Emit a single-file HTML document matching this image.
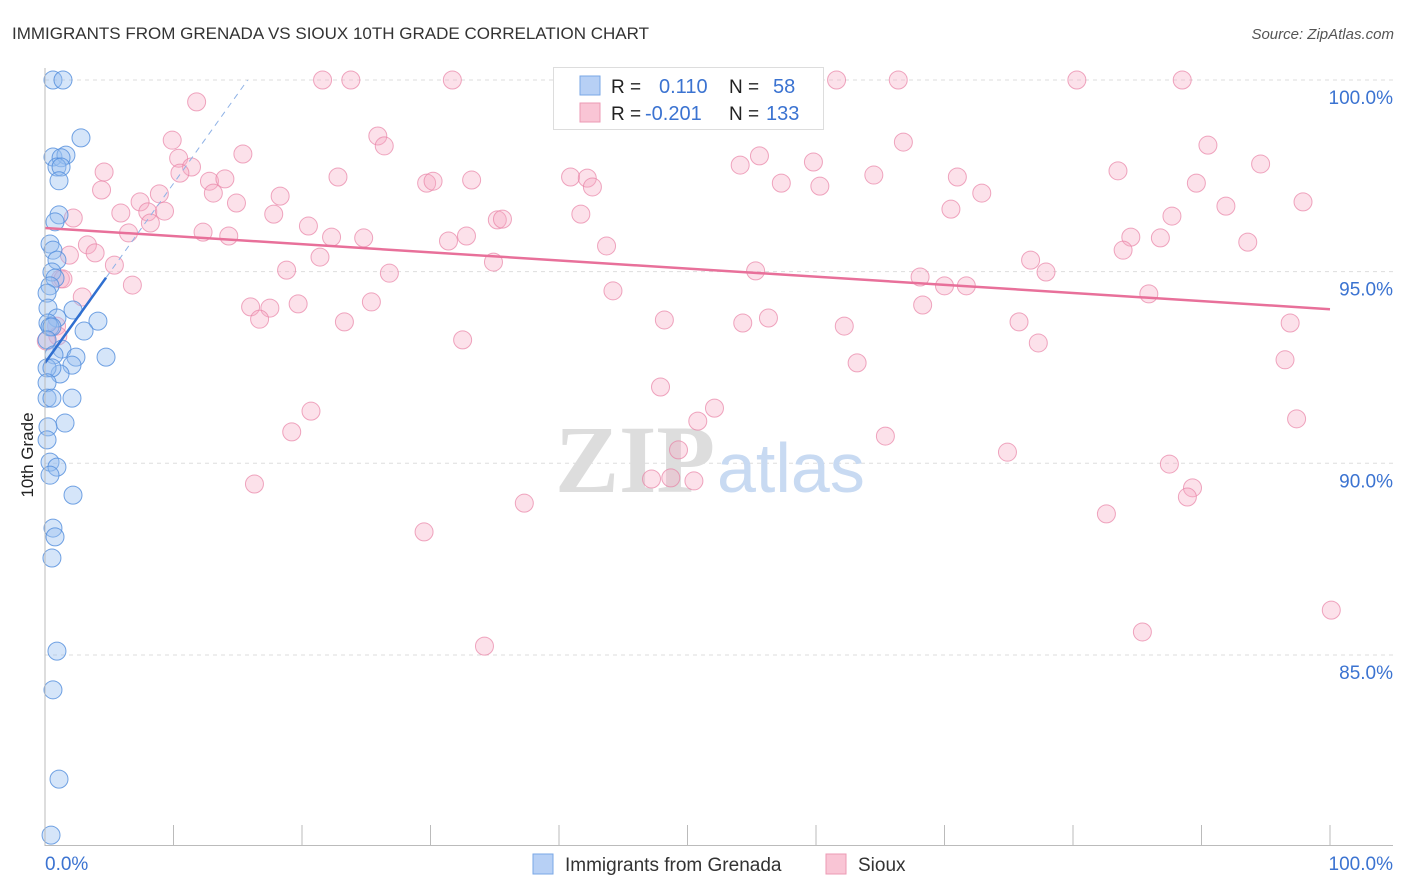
<!DOCTYPE html>
<html><head><meta charset="utf-8"><style>
body{margin:0;background:#fff;width:1406px;height:892px;overflow:hidden;font-family:"Liberation Sans",sans-serif}
svg{display:block}
</style></head><body>
<svg id="chart" width="1406" height="892">
<text x="12" y="39" font-size="17" fill="#333">IMMIGRANTS FROM GRENADA VS SIOUX 10TH GRADE CORRELATION CHART</text>
<text x="1394" y="39" font-size="15" fill="#555" font-style="italic" text-anchor="end">Source: ZipAtlas.com</text>
<text transform="translate(33,455) rotate(-90)" font-size="17" fill="#222" text-anchor="middle">10th Grade</text>
<g id="grid"></g>
<g id="wm"><text x="555" y="492" font-size="96" font-family="Liberation Serif,serif" fill="#ddd" font-weight="bold">ZIP</text><text x="717" y="492" font-size="70" fill="#c8daf2">atlas</text></g>
<g id="pts"></g>
<g id="lines"></g>
<g id="axes"></g>
<g>
<rect x="553.5" y="67.5" width="270" height="62" fill="#fff" stroke="#ddd"/>
<rect x="580" y="76" width="20" height="19" fill="#b7d0f5" stroke="#7aa7e6"/>
<rect x="580" y="103" width="20" height="19" fill="#f9c5d5" stroke="#ec9ab4"/>
<text x="611" y="93" font-size="19" fill="#222">R =</text><text x="659" y="93" font-size="20" fill="#3b73d1">0.110</text>
<text x="729" y="93" font-size="19" fill="#222">N =</text><text x="773" y="93" font-size="20" fill="#3b73d1">58</text>
<text x="611" y="120" font-size="19" fill="#222">R =</text><text x="645" y="120" font-size="20" fill="#3b73d1">-0.201</text>
<text x="729" y="120" font-size="19" fill="#222">N =</text><text x="766" y="120" font-size="20" fill="#3b73d1">133</text>
</g>
<g>
<rect x="533" y="854" width="20" height="20" fill="#b7d0f5" stroke="#7aa7e6"/>
<text x="565" y="871" font-size="19" fill="#333">Immigrants from Grenada</text>
<rect x="826" y="854" width="20" height="20" fill="#f9c5d5" stroke="#ec9ab4"/>
<text x="858" y="871" font-size="19" fill="#333">Sioux</text>
</g>
</svg>
<script>
const blueX=[0.62,1.40,2.80,0.62,1.63,1.25,0.93,1.25,1.09,1.09,0.78,0.39,0.62,0.93,0.54,0.78,0.39,0.16,0.23,2.18,4.12,0.93,0.23,0.39,0.54,3.04,0.16,1.32,0.70,2.41,4.75,2.10,1.17,0.16,0.54,0.16,2.10,0.16,0.54,1.56,0.23,0.16,0.39,0.93,0.39,2.18,0.62,0.78,0.54,0.93,0.62,1.09,0.47];
const blueY=[100,100,98.49,97.99,98.04,97.97,97.73,97.73,97.37,96.48,96.30,95.72,95.56,95.30,94.99,94.83,94.63,94.44,94.05,94.00,93.71,93.79,93.66,93.56,93.56,93.45,93.22,92.98,92.83,92.77,92.77,92.56,92.33,92.49,92.49,92.10,91.70,91.70,91.70,91.05,90.95,90.61,90.03,89.90,89.69,89.17,88.31,88.08,87.53,85.10,84.09,81.76,80.30];
const pinkX=[11.8,21.6,23.8,31.7,45.5,46.7,61.6,66.4,80.3,88.5,9.9,25.9,26.4,15.4,10.4,11.4,10.5,4.6,12.8,14.0,22.8,33.2,29.7,30.2,40.9,42.2,42.6,54.1,55.6,57.3,59.8,60.3,64.5,66.8,71.0,72.9,70.5,83.5,90.5,94.6,89.6,91.9,97.9,87.7,4.4,8.9,7.4,8.0,9.3,5.9,14.9,13.1,18.3,17.8,20.5,8.2,6.5,12.3,14.3,22.3,24.8,31.4,32.8,35.2,35.6,41.7,43.7,2.2,3.3,3.9,1.9,5.4,18.8,21.4,26.8,34.9,55.3,68.1,70.0,71.7,76.7,77.9,84.5,86.8,83.9,93.6,1.2,1.4,6.8,2.9,44.2,85.9,16.0,17.5,19.7,25.4,16.7,23.3,48.2,54.3,56.3,68.3,62.2,75.8,96.9,0.9,1.0,0.1,32.5,77.3,96.5,63.2,47.9,52.1,20.7,50.8,97.4,19.2,65.4,49.3,74.9,87.5,16.3,47.2,48.7,50.5,89.3,88.9,37.3,82.6,29.5,85.4,34.2,100.1];
const pinkY=[99.43,100,100,100,100,100,100,100,100,100,98.43,98.54,98.28,98.07,97.96,97.73,97.57,97.60,97.36,97.42,97.47,97.39,97.31,97.36,97.47,97.44,97.21,97.78,98.02,97.31,97.86,97.23,97.52,98.38,97.47,97.05,96.63,97.63,98.30,97.81,97.31,96.71,96.82,96.45,97.13,97.03,96.82,96.56,96.58,96.53,96.79,97.05,96.97,96.50,96.19,96.27,96.01,96.03,95.93,95.90,95.88,95.80,95.93,96.35,96.37,96.50,95.67,96.40,95.70,95.49,95.43,95.17,95.04,95.38,94.96,95.25,95.02,94.86,94.63,94.63,95.30,94.99,95.90,95.88,95.56,95.77,94.81,94.81,94.65,94.34,94.50,94.42,94.08,94.05,94.16,94.21,93.76,93.69,93.74,93.66,93.79,94.13,93.58,93.69,93.66,93.58,93.32,93.19,93.22,93.14,92.70,92.62,91.99,91.44,91.36,91.10,91.16,90.82,90.71,90.35,90.29,89.98,89.46,89.59,89.62,89.54,89.36,89.12,88.96,88.68,88.21,85.60,85.23,86.17];
const yTicks=[100,95,90,85];
const yTickLabels=["100.0%","95.0%","90.0%","85.0%"];
const xTicks=[0,10,20,30,40,50,60,70,80,90,100];
const pinkTrend=[96.14,-0.0212];
const blueTrend=[92.62,0.468];
const NS="http://www.w3.org/2000/svg";
const sx=v=>45+v*12.85;
const sy=v=>80+(100-v)*38.33;
function mk(t,a,p){const e=document.createElementNS(NS,t);for(const k in a)e.setAttribute(k,a[k]);p.appendChild(e);return e;}
const grid=document.getElementById('grid'),axes=document.getElementById('axes'),pts=document.getElementById('pts'),lines=document.getElementById('lines');
yTicks.forEach((v,i)=>{
 const l=mk('line',{x1:45,x2:1393,y1:sy(v),y2:sy(v),stroke:'#ddd','stroke-dasharray':'4,4'},grid);
 
 
 const t=mk('text',{x:1393,y:sy(v)+24,'font-size':19,fill:'#3b73d1','text-anchor':'end'},axes);
 t.textContent=yTickLabels[i];
 
 
});
const ya=mk('line',{x1:45,x2:45,y1:68,y2:846,stroke:'#bbb'},axes);


const xa=mk('line',{x1:45,x2:1393,y1:845.5,y2:845.5,stroke:'#bbb'},axes);


xTicks.forEach(v=>{
 const t=mk('line',{x1:sx(v),x2:sx(v),y1:825,y2:846,stroke:'#bbb'},axes);
 
 
});
[[0,'start',45,"0.0%"],[100,'end',1393,"100.0%"]].forEach(a=>{
 const t=mk('text',{x:a[2],y:870,'font-size':19,fill:'#3b73d1','text-anchor':a[1]},axes);
 t.textContent=a[3];
 
 
});
pinkX.forEach((x,i)=>{
 const c=mk('circle',{cx:sx(x),cy:sy(pinkY[i]),r:9,fill:'rgba(245,170,195,0.35)',stroke:'rgba(232,130,165,0.7)','stroke-width':1},pts);
 
 
});
blueX.forEach((x,i)=>{
 const c=mk('circle',{cx:sx(x),cy:sy(blueY[i]),r:9,fill:'rgba(150,190,240,0.4)',stroke:'rgba(80,140,220,0.8)','stroke-width':1},pts);
 
 
});
const pl=mk('line',{x1:sx(0),y1:sy(pinkTrend[0]),x2:sx(100),y2:sy(pinkTrend[0]+100*pinkTrend[1]),stroke:'#e8709a','stroke-width':2.5},lines);


const bxEnd=Math.max(...blueX);
const bl=mk('line',{x1:sx(0),y1:sy(blueTrend[0]),x2:sx(bxEnd),y2:sy(blueTrend[0]+bxEnd*blueTrend[1]),stroke:'#2f6fd0','stroke-width':2.5},lines);


const xd=(100-blueTrend[0])/blueTrend[1];
const bd=mk('line',{x1:sx(bxEnd),y1:sy(blueTrend[0]+bxEnd*blueTrend[1]),x2:sx(xd),y2:sy(100),stroke:'#8fb2e6','stroke-width':1,'stroke-dasharray':'6,5'},lines);


</script>
</body></html>
